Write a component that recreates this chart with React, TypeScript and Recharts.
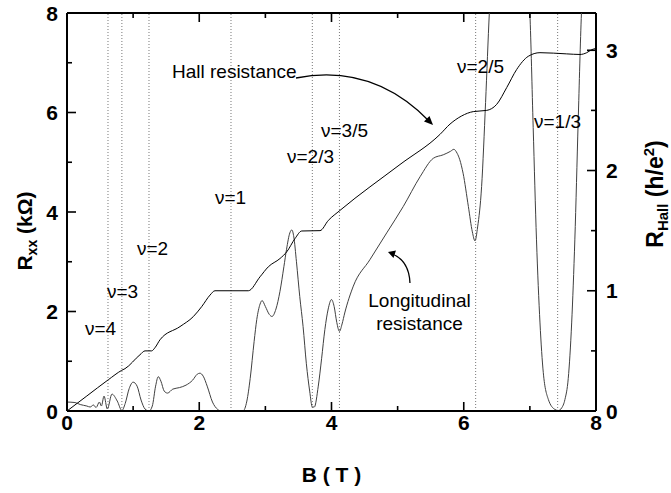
import React from 'react';
import { LineChart, Line, XAxis, YAxis, ReferenceLine, ReferenceDot } from 'recharts';

const W = 671;
const H = 493;
const PLOT_H = 398;
const FONT = '"Liberation Sans", Arial, Helvetica, sans-serif';

// Axis ticks
const bTicks = [0, 1, 2, 3, 4, 5, 6, 7, 8];
const bTickLabels = ['0', '', '2', '', '4', '', '6', '', '8'];
const rxxTicks = [0, 1, 2, 3, 4, 5, 6, 7, 8];
const rxxTickLabels = ['0', '', '2', '', '4', '', '6', '', '8'];
const hallTicks = [0, 0.5, 1, 1.5, 2, 2.5, 3];
const hallTickLabels = ['0', '', '1', '', '2', '', '3'];

// Hall resistance (h/e^2) vs B (T)
const hallB = [0, 0.3, 0.625, 0.827, 0.877, 1.104, 1.18, 1.28, 1.33, 1.406, 1.709, 1.91, 2.037, 2.163, 2.238, 2.742, 2.919, 3.044, 3.221, 3.322, 3.448, 3.55, 3.826, 3.952, 4.128, 5.036, 5.64, 5.792, 5.969, 6.144, 6.347, 6.498, 6.65, 6.8, 6.976, 7.153, 7.557, 7.758, 7.86, 7.935, 8.0];
const hallR = [0, 0.125, 0.26, 0.338, 0.352, 0.468, 0.5, 0.5, 0.526, 0.592, 0.702, 0.785, 0.868, 0.964, 1.0, 1.0, 1.116, 1.199, 1.268, 1.323, 1.434, 1.497, 1.5, 1.585, 1.668, 2.05, 2.3, 2.386, 2.454, 2.49, 2.5, 2.55, 2.69, 2.84, 2.95, 2.98, 2.97, 2.965, 2.98, 3.005, 3.015];

// Longitudinal resistance (kOhm) vs B (T)
const rxxB = [0, 0.12, 0.2, 0.3, 0.35, 0.4, 0.44, 0.49, 0.52, 0.56, 0.61, 0.68, 0.76, 0.83, 0.88, 0.94, 1.0, 1.06, 1.12, 1.18, 1.24, 1.29, 1.34, 1.38, 1.42, 1.47, 1.52, 1.6, 1.7, 1.8, 1.9, 1.97, 2.01, 2.06, 2.12, 2.2, 2.28, 2.32, 2.66, 2.72, 2.77, 2.83, 2.87, 2.92, 2.95, 3.0, 3.06, 3.1, 3.16, 3.22, 3.28, 3.32, 3.37, 3.4, 3.43, 3.47, 3.52, 3.57, 3.62, 3.67, 3.71, 3.74, 3.8, 3.85, 3.9, 3.95, 4.0, 4.04, 4.08, 4.12, 4.16, 4.2, 4.33, 4.58, 4.835, 5.085, 5.34, 5.54, 5.69, 5.8, 5.85, 5.9, 5.94, 5.99, 6.07, 6.13, 6.17, 6.21, 6.27, 6.33, 6.387, 6.43, 6.95, 7.0, 7.05, 7.1, 7.153, 7.203, 7.28, 7.38, 7.43, 7.48, 7.53, 7.58, 7.632, 7.68, 7.73, 7.78, 7.82, 8.0];
const rxxR = [0.18, 0.17, 0.13, 0.1, 0.08, 0.12, 0.07, 0.18, 0.1, 0.3, 0.04, 0.34, 0.2, 0.01, 0.15, 0.45, 0.58, 0.5, 0.22, 0.04, 0.0, 0.1, 0.5, 0.69, 0.6, 0.4, 0.36, 0.44, 0.47, 0.52, 0.62, 0.74, 0.76, 0.7, 0.5, 0.18, 0.03, 0.0, 0.0, 0.2, 0.65, 1.4, 1.84, 2.15, 2.22, 2.1, 1.94, 1.9, 2.05, 2.4, 2.9, 3.25, 3.58, 3.64, 3.5, 3.0, 2.3, 1.7, 0.95, 0.4, 0.08, 0.08, 0.5, 1.05, 1.64, 2.05, 2.24, 2.1, 1.78, 1.6, 1.75, 1.97, 2.51, 3.04, 3.58, 4.11, 4.71, 5.08, 5.15, 5.22, 5.26, 5.18, 5.05, 4.78, 4.11, 3.6, 3.42, 3.7, 4.51, 6.2, 8.0, 9.0, 9.0, 8.0, 5.7, 3.44, 1.77, 0.77, 0.23, 0.03, 0.01, 0.06, 0.23, 0.65, 1.77, 3.44, 5.8, 8.0, 9.0, 9.0];

// Filling factors (dotted lines) and their labels
const fillingB = [0.62, 0.83, 1.24, 2.48, 3.71, 4.12, 6.18, 7.42];
const nuLabels = ['ν=4', 'ν=3', 'ν=2', 'ν=1', 'ν=2/3', 'ν=3/5', 'ν=2/5', 'ν=1/3'];
const nuLabelB = [0.272, 0.605, 1.059, 2.238, 3.327, 3.841, 5.898, 7.062];
const nuLabelR = [1.528, 2.271, 3.136, 4.161, 4.985, 5.508, 6.794, 5.688];

const hallData = hallB.map((b, i) => ({ B: b, hall: hallR[i] }));
const rxxData = rxxB.map((b, i) => ({ B: b, rxx: rxxR[i] }));

const txt = { fontFamily: FONT, fill: '#000' } as const;

const BottomTick = (props: any) => {
  const { x, y, payload } = props;
  const i = bTicks.indexOf(payload.value);
  const major = i % 2 === 0;
  const len = major ? 9 : 5;
  return (
    <g>
      <line x1={x} y1={y} x2={x} y2={y - len} stroke="#000" strokeWidth={1.6} />
      <line x1={x} y1={y - PLOT_H} x2={x} y2={y - PLOT_H + len} stroke="#000" strokeWidth={1.6} />
      {major && (
        <text x={x} y={y + 19} textAnchor="middle" fontSize={21} fontWeight="bold" style={txt}>
          {bTickLabels[i]}
        </text>
      )}
    </g>
  );
};

const LeftTick = (props: any) => {
  const { x, y, payload } = props;
  const i = rxxTicks.indexOf(payload.value);
  const major = i % 2 === 0;
  const len = major ? 9 : 5;
  return (
    <g>
      <line x1={x} y1={y} x2={x + len} y2={y} stroke="#000" strokeWidth={1.6} />
      {major && (
        <text x={x - 9} y={y + 7.5} textAnchor="end" fontSize={21} fontWeight="bold" style={txt}>
          {rxxTickLabels[i]}
        </text>
      )}
    </g>
  );
};

const RightTick = (props: any) => {
  const { x, y, payload } = props;
  const i = hallTicks.indexOf(payload.value);
  const major = i % 2 === 0;
  const len = major ? 9 : 5;
  return (
    <g>
      <line x1={x} y1={y} x2={x - len} y2={y} stroke="#000" strokeWidth={1.6} />
      {major && (
        <text x={x + 10} y={y + 7.5} textAnchor="start" fontSize={21} fontWeight="bold" style={txt}>
          {hallTickLabels[i]}
        </text>
      )}
    </g>
  );
};

const XTitle = (props: any) => {
  const vb = props.viewBox || {};
  return (
    <text x={vb.x + vb.width / 2} y={vb.y + 71} textAnchor="middle" fontSize={21} fontWeight="bold" style={txt}>
      B ( T )
    </text>
  );
};

const LeftTitle = () => {
  const cx = 32;
  const cy = 231;
  return (
    <text x={cx} y={cy} transform={`rotate(-90 ${cx} ${cy})`} textAnchor="middle" fontSize={21} fontWeight="bold" style={txt}>
      R<tspan fontSize={14} dy={5}>xx</tspan>
      <tspan dy={-5}> (kΩ)</tspan>
    </text>
  );
};

const RightTitle = () => {
  const cx = 663;
  const cy = 194;
  return (
    <text x={cx} y={cy} transform={`rotate(-90 ${cx} ${cy})`} textAnchor="middle" fontSize={23} fontWeight="bold" style={txt}>
      R<tspan fontSize={15} dy={5}>Hall</tspan>
      <tspan dy={-5}> (h/e</tspan>
      <tspan fontSize={15} dy={-9}>2</tspan>
      <tspan dy={9}>)</tspan>
    </text>
  );
};

const textShape = (label: string, anchor: 'start' | 'middle' = 'start') => (p: any) => (
  <text x={p.cx} y={p.cy} textAnchor={anchor} fontSize={19} style={txt}>
    {label}
  </text>
);

const hallArrow = (p: any) => {
  const { cx, cy } = p;
  return (
    <g>
      <path d={`M ${cx - 137} ${cy - 47} Q ${cx - 60} ${cy - 62} ${cx - 3} ${cy - 3}`} fill="none" stroke="#000" strokeWidth={1.3} />
      <path d={`M ${cx} ${cy} L ${cx - 9} ${cy - 3.5} L ${cx - 3.5} ${cy - 9} Z`} fill="#000" />
    </g>
  );
};

const longArrow = (p: any) => {
  const { cx, cy } = p;
  return (
    <g>
      <path d={`M ${cx + 22} ${cy + 31} Q ${cx + 21} ${cy + 8} ${cx + 3} ${cy + 1.5}`} fill="none" stroke="#000" strokeWidth={1.3} />
      <path d={`M ${cx} ${cy} L ${cx + 8} ${cy - 1.5} L ${cx + 5.5} ${cy + 6} Z`} fill="#000" />
    </g>
  );
};

export default function App() {
  return (
    <div style={{ position: 'absolute', left: 0, top: 0, width: W, height: H, background: '#fff' }}>
      <LineChart width={W} height={H} margin={{ top: 13, right: 0, bottom: 0, left: 0 }}>
        <XAxis
          dataKey="B"
          type="number"
          domain={[0, 8]}
          ticks={bTicks}
          interval={0}
          allowDataOverflow
          height={82}
          tickSize={0}
          tickMargin={0}
          tickLine={false}
          axisLine={{ stroke: '#000', strokeWidth: 2 }}
          tick={<BottomTick />}
          label={<XTitle />}
        />
        <YAxis
          yAxisId="left"
          orientation="left"
          type="number"
          domain={[0, 8]}
          ticks={rxxTicks}
          interval={0}
          allowDataOverflow
          width={67}
          tickSize={0}
          tickMargin={0}
          tickLine={false}
          axisLine={{ stroke: '#000', strokeWidth: 2 }}
          tick={<LeftTick />}
        />
        <YAxis
          yAxisId="right"
          orientation="right"
          type="number"
          domain={[0, 3.31]}
          ticks={hallTicks}
          interval={0}
          allowDataOverflow
          width={75}
          tickSize={0}
          tickMargin={0}
          tickLine={false}
          axisLine={{ stroke: '#000', strokeWidth: 2 }}
          tick={<RightTick />}
        />
        <ReferenceLine yAxisId="left" y={8} stroke="#000" strokeWidth={2} />
        {fillingB.map((b) => (
          <ReferenceLine key={b} yAxisId="left" x={b} stroke="#777" strokeWidth={1} strokeDasharray="1 2" />
        ))}
        <Line
          yAxisId="left"
          data={rxxData}
          dataKey="rxx"
          type="monotone"
          dot={false}
          stroke="#404040"
          strokeWidth={1}
          isAnimationActive={false}
        />
        <Line
          yAxisId="right"
          data={hallData}
          dataKey="hall"
          type="monotone"
          dot={false}
          stroke="#000"
          strokeWidth={1}
          isAnimationActive={false}
        />
        {nuLabels.map((l, i) => (
          <ReferenceDot key={l} yAxisId="left" x={nuLabelB[i]} y={nuLabelR[i]} r={0} shape={textShape(l)} />
        ))}
        <ReferenceDot yAxisId="left" x={1.588} y={6.693} r={0} shape={textShape('Hall resistance')} />
        <ReferenceDot yAxisId="left" x={5.331} y={2.09} r={0} shape={textShape('Longitudinal', 'middle')} />
        <ReferenceDot yAxisId="left" x={5.331} y={1.628} r={0} shape={textShape('resistance', 'middle')} />
        <ReferenceDot yAxisId="left" x={5.535} y={5.749} r={0} shape={hallArrow} />
        <ReferenceDot yAxisId="left" x={4.854} y={3.196} r={0} shape={longArrow} />
        <LeftTitle />
        <RightTitle />
      </LineChart>
    </div>
  );
}
